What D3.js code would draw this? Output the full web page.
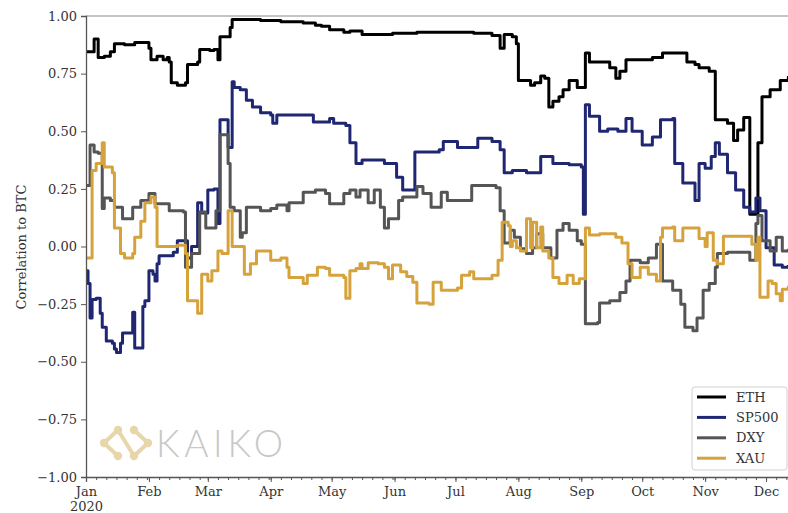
<!DOCTYPE html>
<html><head><meta charset="utf-8">
<script src="https://cdn.jsdelivr.net/npm/d3@7"></script>
<style>body{margin:0;background:#fff}svg{display:block}</style>
</head><body><svg id="chart" width="788" height="513"></svg>
<script>
// ---- data ----
const seriesNames = ["ETH", "SP500", "DXY", "XAU"];
const seriesColors = ["#000000", "#1f2672", "#555555", "#d6a23c"];
const yTickValues = [1.00, 0.75, 0.50, 0.25, 0.00, -0.25, -0.50, -0.75, -1.00];
const xDomain = ["2020-01-01", "2020-12-31"];
const yLabel = "Correlation to BTC";
const watermarkText = "KAIKO";

const ethData = [["01-01",0.845],["01-05",0.90],["01-06",0.90],["01-07",0.82],["01-10",0.825],["01-13",0.845],["01-15",0.88],["01-20",0.875],["01-25",0.885],["01-30",0.885],["02-01",0.86],["02-02",0.81],["02-04",0.81],["02-05",0.825],["02-08",0.81],["02-10",0.82],["02-11",0.80],["02-12",0.71],["02-15",0.70],["02-19",0.71],["02-20",0.79],["02-25",0.80],["02-26",0.855],["03-02",0.85],["03-04",0.855],["03-06",0.81],["03-07",0.91],["03-11",0.91],["03-12",0.95],["03-13",0.985],["03-27",0.98],["04-06",0.975],["04-17",0.97],["04-23",0.96],["04-26",0.955],["04-30",0.94],["05-07",0.93],["05-10",0.935],["05-16",0.92],["05-31",0.925],["06-12",0.93],["06-25",0.93],["07-10",0.925],["07-19",0.915],["07-21",0.915],["07-23",0.86],["07-25",0.92],["07-29",0.91],["07-31",0.88],["08-01",0.72],["08-07",0.70],["08-09",0.71],["08-12",0.74],["08-14",0.73],["08-16",0.605],["08-18",0.63],["08-21",0.65],["08-23",0.68],["08-26",0.72],["08-29",0.72],["08-30",0.69],["09-02",0.69],["09-03",0.84],["09-05",0.80],["09-12",0.80],["09-15",0.775],["09-18",0.73],["09-20",0.76],["09-23",0.81],["10-06",0.82],["10-11",0.84],["10-18",0.84],["10-23",0.80],["10-27",0.79],["10-29",0.775],["11-03",0.76],["11-06",0.55],["11-12",0.535],["11-15",0.46],["11-17",0.505],["11-20",0.56],["11-23",0.14],["11-25",0.14],["11-27",0.45],["11-29",0.65],["12-03",0.68],["12-08",0.72],["12-12",0.74]];

const sp500Data = [["01-01",-0.105],["01-02",-0.16],["01-03",-0.31],["01-04",-0.23],["01-06",-0.225],["01-08",-0.29],["01-09",-0.35],["01-11",-0.41],["01-14",-0.42],["01-15",-0.445],["01-16",-0.46],["01-18",-0.42],["01-19",-0.375],["01-22",-0.375],["01-24",-0.285],["01-25",-0.44],["01-28",-0.44],["01-29",-0.26],["01-30",-0.235],["02-01",-0.105],["02-03",-0.12],["02-04",-0.15],["02-05",-0.075],["02-06",-0.04],["02-13",-0.025],["02-15",0.025],["02-17",0.025],["02-20",-0.05],["02-22",0.0],["02-24",0.0],["02-25",0.19],["02-27",0.145],["03-01",0.245],["03-04",0.25],["03-06",0.10],["03-07",0.55],["03-09",0.55],["03-11",0.43],["03-13",0.715],["03-14",0.69],["03-17",0.68],["03-20",0.635],["03-23",0.605],["03-27",0.58],["04-01",0.57],["04-02",0.535],["04-04",0.57],["04-15",0.57],["04-22",0.54],["04-30",0.555],["05-02",0.535],["05-08",0.525],["05-10",0.45],["05-13",0.36],["05-16",0.375],["05-23",0.375],["05-27",0.36],["06-02",0.30],["06-05",0.245],["06-10",0.245],["06-11",0.41],["06-23",0.42],["06-25",0.455],["07-02",0.43],["07-12",0.47],["07-19",0.455],["07-23",0.42],["07-25",0.32],["07-29",0.33],["08-05",0.32],["08-12",0.39],["08-18",0.36],["08-26",0.355],["09-01",0.345],["09-02",0.14],["09-03",0.615],["09-05",0.565],["09-09",0.565],["09-10",0.50],["09-14",0.51],["09-19",0.50],["09-23",0.555],["09-26",0.50],["10-01",0.44],["10-06",0.475],["10-10",0.55],["10-16",0.555],["10-17",0.36],["10-21",0.275],["10-27",0.20],["10-29",0.36],["11-01",0.34],["11-04",0.39],["11-06",0.45],["11-08",0.40],["11-12",0.32],["11-16",0.245],["11-20",0.17],["11-23",0.15],["11-26",0.21],["11-28",0.155],["12-01",-0.005],["12-05",-0.08],["12-09",-0.09],["12-12",-0.08]];

const dxyData = [["01-01",0.265],["01-03",0.44],["01-05",0.41],["01-07",0.405],["01-09",0.165],["01-10",0.21],["01-13",0.20],["01-15",0.17],["01-19",0.12],["01-22",0.12],["01-24",0.17],["01-28",0.20],["02-01",0.23],["02-03",0.23],["02-04",0.185],["02-10",0.185],["02-11",0.155],["02-18",0.15],["02-19",-0.09],["02-22",-0.03],["02-25",-0.03],["02-26",0.15],["02-29",0.08],["03-03",0.08],["03-05",0.155],["03-07",0.485],["03-08",0.485],["03-11",0.36],["03-12",0.17],["03-14",0.155],["03-17",0.04],["03-18",0.06],["03-20",0.17],["03-23",0.17],["03-27",0.155],["04-01",0.165],["04-04",0.18],["04-09",0.155],["04-10",0.19],["04-15",0.19],["04-17",0.235],["04-23",0.245],["04-28",0.23],["04-30",0.185],["05-05",0.185],["05-07",0.23],["05-10",0.245],["05-13",0.215],["05-15",0.245],["05-19",0.19],["05-22",0.245],["05-25",0.17],["05-27",0.08],["05-29",0.12],["06-01",0.12],["06-03",0.20],["06-05",0.215],["06-10",0.215],["06-12",0.26],["06-15",0.23],["06-19",0.17],["06-24",0.235],["06-27",0.20],["07-03",0.20],["07-09",0.265],["07-17",0.265],["07-21",0.255],["07-23",0.155],["07-25",0.015],["07-28",0.07],["07-30",0.04],["08-02",-0.01],["08-05",-0.03],["08-08",-0.005],["08-10",0.055],["08-13",-0.005],["08-17",-0.05],["08-20",0.07],["08-23",0.10],["08-26",0.07],["08-30",0.025],["09-01",0.01],["09-03",-0.335],["09-09",-0.33],["09-10",-0.245],["09-15",-0.235],["09-20",-0.20],["09-23",-0.15],["09-25",-0.06],["09-30",-0.07],["10-04",-0.05],["10-08",0.01],["10-11",-0.15],["10-16",-0.19],["10-20",-0.25],["10-22",-0.35],["10-26",-0.365],["10-28",-0.31],["10-31",-0.19],["11-03",-0.16],["11-06",-0.09],["11-07",-0.03],["11-12",-0.025],["11-20",-0.025],["11-23",-0.06],["11-26",0.10],["11-27",0.135],["11-29",0.025],["12-03",-0.02],["12-06",0.04],["12-09",-0.02],["12-12",-0.01]];

const xauData = [["01-01",-0.05],["01-04",0.33],["01-06",0.36],["01-09",0.45],["01-10",0.345],["01-14",0.32],["01-15",0.08],["01-18",-0.03],["01-20",-0.05],["01-24",-0.03],["01-25",0.04],["01-28",0.11],["01-30",0.19],["02-02",0.215],["02-04",0.17],["02-05",0.0],["02-10",0.0],["02-15",0.005],["02-19",-0.03],["02-20",-0.235],["02-24",-0.235],["02-25",-0.29],["02-27",-0.12],["03-01",-0.15],["03-03",-0.105],["03-06",-0.02],["03-08",-0.03],["03-11",0.155],["03-13",0.0],["03-17",0.0],["03-19",-0.12],["03-22",-0.075],["03-25",-0.02],["03-27",-0.02],["04-01",-0.06],["04-06",-0.05],["04-09",-0.09],["04-10",-0.135],["04-15",-0.135],["04-17",-0.16],["04-19",-0.125],["04-22",-0.125],["04-24",-0.09],["04-28",-0.095],["04-30",-0.125],["05-07",-0.135],["05-08",-0.225],["05-10",-0.105],["05-13",-0.095],["05-15",-0.075],["05-16",-0.095],["05-19",-0.07],["05-24",-0.075],["05-27",-0.09],["05-29",-0.14],["05-31",-0.08],["06-02",-0.08],["06-04",-0.11],["06-07",-0.13],["06-10",-0.155],["06-12",-0.245],["06-18",-0.25],["06-20",-0.155],["06-22",-0.155],["06-24",-0.19],["07-02",-0.18],["07-04",-0.125],["07-08",-0.11],["07-10",-0.14],["07-19",-0.125],["07-22",-0.06],["07-24",0.105],["07-27",0.09],["07-28",0.0],["07-29",0.025],["07-31",-0.005],["08-02",-0.02],["08-05",0.12],["08-07",-0.005],["08-08",0.105],["08-10",-0.005],["08-12",0.085],["08-13",-0.02],["08-16",-0.05],["08-18",-0.135],["08-21",-0.16],["08-25",-0.125],["08-28",-0.16],["08-31",-0.14],["09-02",-0.14],["09-03",0.08],["09-05",0.05],["09-10",0.055],["09-15",0.055],["09-18",0.04],["09-21",0.015],["09-24",-0.075],["09-26",-0.135],["09-30",-0.09],["10-04",-0.12],["10-08",-0.15],["10-10",0.04],["10-11",0.08],["10-16",0.085],["10-17",0.025],["10-21",0.08],["10-26",0.08],["10-29",0.035],["11-01",0.0],["11-02",0.06],["11-05",-0.06],["11-07",-0.075],["11-10",0.045],["11-20",0.045],["11-24",0.01],["11-26",-0.06],["11-27",0.04],["11-28",-0.22],["11-30",-0.22],["12-02",-0.15],["12-04",-0.16],["12-06",-0.205],["12-08",-0.235],["12-09",-0.185],["12-12",-0.17]];

const allSeries = [ethData, sp500Data, dxyData, xauData];

// ---- drawing ----
const svg = d3.select("#chart");
const parse = d3.timeParse("%Y-%m-%d");
const plotLeft = 86, plotTop = 16, plotBottom = 477;
const x = d3.scaleTime().domain(xDomain.map(parse)).range([plotLeft, plotLeft + 365 * 2.03]);
const y = d3.scaleLinear().domain([-1, 1]).range([plotBottom, plotTop]);
const serif = "'DejaVu Serif', serif";

// watermark
const wm = svg.append("g").attr("class", "watermark");
const gold = "#e8d6ab";
wm.append("path").attr("d", "M118,430 L104,443 L118,456 M134,430 L148,443 L134,456 M118,430 L134,456")
  .attr("fill", "none").attr("stroke", gold).attr("stroke-width", 4).attr("stroke-linecap", "round").attr("stroke-linejoin", "round");
[[118,430],[104,443],[118,456],[134,430],[148,443],[134,456]].forEach(p => {
  wm.append("circle").attr("cx", p[0]).attr("cy", p[1]).attr("r", 4.2).attr("fill", gold);
});
wm.append("text").attr("x", 156).attr("y", 457).text(watermarkText)
  .attr("font-family", "Lato, 'Open Sans', sans-serif").attr("font-weight", 300)
  .attr("font-size", 37).attr("fill", "#c8c8c8").attr("textLength", 127).attr("lengthAdjust", "spacing");

// lines
const line = d3.line().curve(d3.curveStepAfter).x(d => x(parse("2020-" + d[0]))).y(d => y(d[1]));
const linesG = svg.append("g");
allSeries.forEach((s, i) => {
  linesG.append("path").datum(s).attr("d", line).attr("fill", "none")
    .attr("stroke", seriesColors[i]).attr("stroke-width", 3).attr("stroke-linejoin", "round");
});

// frame
svg.append("line").attr("x1", plotLeft).attr("x2", 788).attr("y1", plotTop).attr("y2", plotTop).attr("stroke", "#8a8a8a").attr("stroke-width", 1.2);

// y axis
const yAxis = svg.append("g").attr("transform", `translate(${plotLeft},0)`)
  .call(d3.axisLeft(y).tickValues(yTickValues).tickSize(5).tickPadding(4)
    .tickFormat(v => d3.format(".2f")(v).replace("-", "\u2212")));
yAxis.select(".domain").attr("stroke", "#555").attr("stroke-width", 1.3);
yAxis.selectAll(".tick line").attr("stroke", "#555");
yAxis.selectAll("text").attr("font-family", serif).attr("font-size", 13).attr("fill", "#333");

// x axis minor
const xMinor = svg.append("g").attr("transform", `translate(0,${plotBottom})`)
  .call(d3.axisBottom(x).ticks(d3.timeDay.every(5)).tickSize(3).tickFormat(""));
xMinor.select(".domain").remove();
xMinor.selectAll(".tick line").attr("stroke", "#555");

// x axis major
const xAxis = svg.append("g").attr("transform", `translate(0,${plotBottom})`)
  .call(d3.axisBottom(x).ticks(d3.timeMonth.every(1)).tickSize(5).tickPadding(5).tickFormat(d3.timeFormat("%b")));
xAxis.select(".domain").attr("stroke", "#555").attr("stroke-width", 1.3);
xAxis.selectAll(".tick line").attr("stroke", "#555");
xAxis.selectAll("text").attr("font-family", serif).attr("font-size", 13).attr("fill", "#333");
xAxis.selectAll(".tick").filter(d => d.getMonth() === 0).append("text")
  .attr("y", 25).attr("dy", "0.71em").attr("text-anchor", "middle")
  .attr("font-family", serif).attr("font-size", 13).attr("fill", "#333").text("2020");

// y label
svg.append("text").attr("transform", "translate(26,247) rotate(-90)").attr("text-anchor", "middle")
  .attr("font-family", serif).attr("font-size", 13).attr("fill", "#333").text(yLabel);

// legend
const lg = svg.append("g");
lg.append("rect").attr("x", 692).attr("y", 387).attr("width", 95).attr("height", 83).attr("rx", 3)
  .attr("fill", "#fff").attr("stroke", "#d0d0d0").attr("stroke-width", 1);
seriesNames.forEach((n, i) => {
  const yy = 397 + i * 20.4;
  lg.append("line").attr("x1", 697).attr("x2", 726).attr("y1", yy).attr("y2", yy)
    .attr("stroke", seriesColors[i]).attr("stroke-width", 3);
  lg.append("text").attr("x", 736).attr("y", yy).attr("dy", "0.35em")
    .attr("font-family", serif).attr("font-size", 13).attr("fill", "#333").text(n);
});
</script></body></html>
